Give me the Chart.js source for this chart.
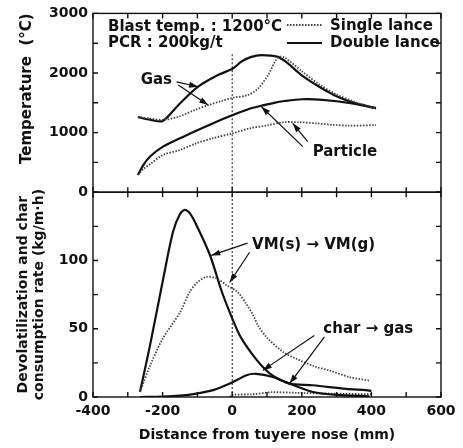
<!DOCTYPE html>
<html>
<head>
<meta charset="utf-8">
<script src="https://cdn.jsdelivr.net/npm/chart.js@4.4.1/dist/chart.umd.min.js"></script>
<style>
  html, body { margin: 0; padding: 0; background: #fff; }
  #wrap { width: 463px; height: 448px; }
</style>
</head>
<body>
<div id="wrap"><canvas id="chart" width="463" height="448"></canvas></div>
<script>
// ---- data ----
// upper panel: temperature (°C) vs distance from tuyere nose (mm)
const gasDoubleX = [-271, -235, -200, -155, -98, -41, 2, 26, 55, 84, 131, 160, 200, 250, 300, 350, 413];
const gasDoubleY = [1260, 1215, 1195, 1460, 1770, 1965, 2075, 2190, 2270, 2300, 2270, 2160, 1960, 1770, 1610, 1500, 1410];
const gasSingleX = [-271, -235, -198, -155, -107, -69, -31, 2, 45, 74, 103, 131, 150, 200, 250, 300, 350, 413];
const gasSingleY = [1260, 1235, 1215, 1265, 1380, 1460, 1530, 1585, 1630, 1740, 1965, 2260, 2260, 2030, 1810, 1640, 1520, 1400];
const partDoubleX = [-271, -255, -236, -199, -150, -100, -50, 0, 50, 84, 120, 150, 200, 260, 340, 413];
const partDoubleY = [290, 460, 600, 764, 905, 1040, 1170, 1290, 1400, 1450, 1500, 1530, 1560, 1550, 1495, 1410];
const partSingleX = [-271, -255, -236, -199, -150, -103, -56, 1, 50, 100, 146, 190, 241, 290, 337, 413];
const partSingleY = [290, 390, 470, 625, 708, 821, 904, 988, 1072, 1120, 1173, 1175, 1156, 1130, 1116, 1127];

// lower panel: devolatilization / char consumption rate (kg/m·h)
const vmDoubleX = [-265, -236, -198, -170, -150, -136, -120, -103, -64, -31, -7, 20, 50, 88, 120, 165, 232, 300, 394];
const vmDoubleY = [3.7, 38, 87, 121, 134, 137, 134, 126, 104, 78, 62, 46, 34, 22, 15, 9.8, 3.7, 1.5, 0.5];
const vmSingleX = [-265, -236, -199, -150, -122, -100, -74, -45, -17, 15, 41, 60, 75, 98, 146, 184, 241, 279, 337, 394];
const vmSingleY = [3.7, 23, 43, 62, 77, 84, 88, 87, 82, 77, 68, 60, 52, 44, 33, 28, 22, 19.5, 14.6, 12];
const charDoubleX = [-265, -200, -150, -103, -55, -7, 41, 69, 117, 165, 232, 327, 384, 400];
const charDoubleY = [0, 0.3, 1, 2.5, 5, 9.8, 16, 17, 14.6, 9.8, 8.6, 6, 5, 4.5];
const charSingleX = [-7, 0, 60, 112, 189, 285, 400];
const charSingleY = [0, 1.5, 2, 3.5, 3, 2.5, 2];

// tuyere nose marker (x = 0)
const noseX = [0, 0];
const noseTopY = [0, 2350];
const noseBotY = [0, 150];

// axis ticks
const xTickStep = 100, xLabelStep = 200;
const tempTickStep = 500, tempLabelStep = 1000;
const rateTickStep = 25, rateLabelStep = 50;

// annotations, in data units: [text, x, y, panel]
const labels = [
  ["Gas", -218, 1880, "yT"],
  ["Particle", 324, 674, "yT"],
  ["VM(s) \u2192 VM(g)", 234, 111, "yB"],
  ["char \u2192 gas", 391, 50, "yB"],
];
// arrows: [x1, y1, x2(tip), y2(tip), panel]
const arrows = [
  [-160, 1852, -98, 1769, "yT"],
  [-155, 1797, -69, 1462, "yT"],
  [203, 764, 84, 1434, "yT"],
  [217, 848, 174, 1156, "yT"],
  [44, 112.7, -60, 103.7, "yB"],
  [50, 106, -7, 84, "yB"],
  [236, 45, 88, 19.5, "yB"],
  [265, 44, 165, 9.8, "yB"],
];

const INK = "#111";
const FONT = "'DejaVu Sans', sans-serif";

function pts(xs, ys) {
  return xs.map((x, i) => ({ x: x, y: ys[i] }));
}

function curve(data, axis, dotted) {
  return {
    data: data,
    yAxisID: axis,
    showLine: true,
    borderColor: dotted ? "#444" : INK,
    borderWidth: dotted ? 1.8 : 2.2,
    borderDash: dotted ? [1.5, 1.5] : [],
    pointRadius: 0,
    tension: 0.3,
    fill: false,
  };
}

function noseLine(data, axis) {
  return { data: data, yAxisID: axis, showLine: true, borderColor: INK, borderWidth: 1, borderDash: [2, 2], pointRadius: 0, fill: false };
}

// frame, inward ticks, legend, annotations
const decorations = {
  id: "decorations",
  afterDatasetsDraw(chart) {
    const { ctx, scales } = chart;
    const x = scales.x;
    ctx.save();
    ctx.strokeStyle = INK;
    ctx.lineWidth = 1.4;

    [scales.yT, scales.yB].forEach(ys => {
      ctx.strokeRect(x.left, ys.top, x.right - x.left, ys.bottom - ys.top);
      ctx.beginPath();
      x.ticks.forEach(t => {
        const px = x.getPixelForValue(t.value);
        ctx.moveTo(px, ys.top); ctx.lineTo(px, ys.top + 5);
        ctx.moveTo(px, ys.bottom); ctx.lineTo(px, ys.bottom - 5);
      });
      ys.ticks.forEach(t => {
        const py = ys.getPixelForValue(t.value);
        ctx.moveTo(x.left, py); ctx.lineTo(x.left + 5, py);
        ctx.moveTo(x.right, py); ctx.lineTo(x.right - 5, py);
      });
      ctx.stroke();
    });

    // header and legend
    ctx.fillStyle = INK;
    ctx.font = "bold 15px " + FONT;
    ctx.textBaseline = "middle";
    ctx.textAlign = "left";
    ctx.fillText("Blast temp. : 1200\u00B0C", 108, 27);
    ctx.fillText("PCR : 200kg/t", 108, 43);
    ctx.fillText("Single lance", 330, 26);
    ctx.fillText("Double lance", 330, 43);
    ctx.lineWidth = 1.8;
    ctx.strokeStyle = "#444";
    ctx.setLineDash([1.5, 1.5]);
    ctx.beginPath(); ctx.moveTo(287, 25); ctx.lineTo(322, 25); ctx.stroke();
    ctx.setLineDash([]);
    ctx.strokeStyle = INK;
    ctx.lineWidth = 2;
    ctx.beginPath(); ctx.moveTo(287, 43); ctx.lineTo(322, 43); ctx.stroke();

    // labels
    ctx.textAlign = "center";
    labels.forEach(([text, vx, vy, axis]) => {
      ctx.fillText(text, x.getPixelForValue(vx), scales[axis].getPixelForValue(vy));
    });

    // arrows
    ctx.lineWidth = 1.2;
    arrows.forEach(([x1, y1, x2, y2, axis]) => {
      const ys = scales[axis];
      const ax = x.getPixelForValue(x1), ay = ys.getPixelForValue(y1);
      const bx = x.getPixelForValue(x2), by = ys.getPixelForValue(y2);
      const ang = Math.atan2(by - ay, bx - ax);
      ctx.beginPath(); ctx.moveTo(ax, ay); ctx.lineTo(bx, by); ctx.stroke();
      ctx.beginPath();
      ctx.moveTo(bx, by);
      ctx.lineTo(bx - 9 * Math.cos(ang) + 3 * Math.sin(ang), by - 9 * Math.sin(ang) - 3 * Math.cos(ang));
      ctx.lineTo(bx - 9 * Math.cos(ang) - 3 * Math.sin(ang), by - 9 * Math.sin(ang) + 3 * Math.cos(ang));
      ctx.closePath();
      ctx.fill();
    });
    ctx.restore();
  }
};

Chart.defaults.font.family = FONT;
Chart.defaults.font.weight = "bold";
Chart.defaults.color = INK;

const ctx = document.getElementById("chart").getContext("2d");
new Chart(ctx, {
  type: "scatter",
  data: {
    datasets: [
      noseLine(pts(noseX, noseTopY), "yT"),
      noseLine(pts(noseX, noseBotY), "yB"),
      curve(pts(gasSingleX, gasSingleY), "yT", true),
      curve(pts(gasDoubleX, gasDoubleY), "yT", false),
      curve(pts(partSingleX, partSingleY), "yT", true),
      curve(pts(partDoubleX, partDoubleY), "yT", false),
      curve(pts(vmSingleX, vmSingleY), "yB", true),
      curve(pts(vmDoubleX, vmDoubleY), "yB", false),
      curve(pts(charSingleX, charSingleY), "yB", true),
      curve(pts(charDoubleX, charDoubleY), "yB", false),
    ],
  },
  options: {
    responsive: false,
    animation: false,
    layout: { padding: { top: 13, right: 22, left: 0, bottom: 0 } },
    plugins: { legend: { display: false }, tooltip: { enabled: false } },
    scales: {
      x: {
        type: "linear", min: -400, max: 600,
        grid: { display: false, drawTicks: false }, border: { display: false },
        ticks: { stepSize: xTickStep, autoSkip: false, maxRotation: 0, padding: 6, font: { size: 14 },
          callback: v => (v % xLabelStep === 0 ? v : "") },
        title: { display: true, text: "Distance from tuyere nose (mm)", font: { size: 14 }, padding: { top: 0, bottom: 4 } },
        afterFit: s => { s.height = 51; },
      },
      yB: {
        type: "linear", position: "left", stack: "panels", stackWeight: 205, min: 0, max: 150,
        grid: { display: false, drawTicks: false }, border: { display: false },
        ticks: { stepSize: rateTickStep, autoSkip: false, padding: 5, font: { size: 14 },
          callback: v => (v % rateLabelStep === 0 && v < 150 ? v : "") },
        title: { display: true, text: ["Devolatilization and char", "consumption rate (kg/m\u00B7h)"], font: { size: 14 }, padding: { top: 14.6, bottom: 0 } },
        afterFit: s => { s.width = 93; },
      },
      yT: {
        type: "linear", position: "left", stack: "panels", stackWeight: 179, min: 0, max: 3000,
        grid: { display: false, drawTicks: false }, border: { display: false },
        ticks: { stepSize: tempTickStep, autoSkip: false, padding: 5, font: { size: 14 },
          callback: v => (v % tempLabelStep === 0 ? v : "") },
        title: { display: true, text: "Temperature  (\u00B0C)", align: "end", font: { size: 15 }, padding: { top: 18, bottom: 0 } },
        afterFit: s => { s.width = 93; },
      },
    },
  },
  plugins: [decorations],
});
</script>
</body>
</html>
